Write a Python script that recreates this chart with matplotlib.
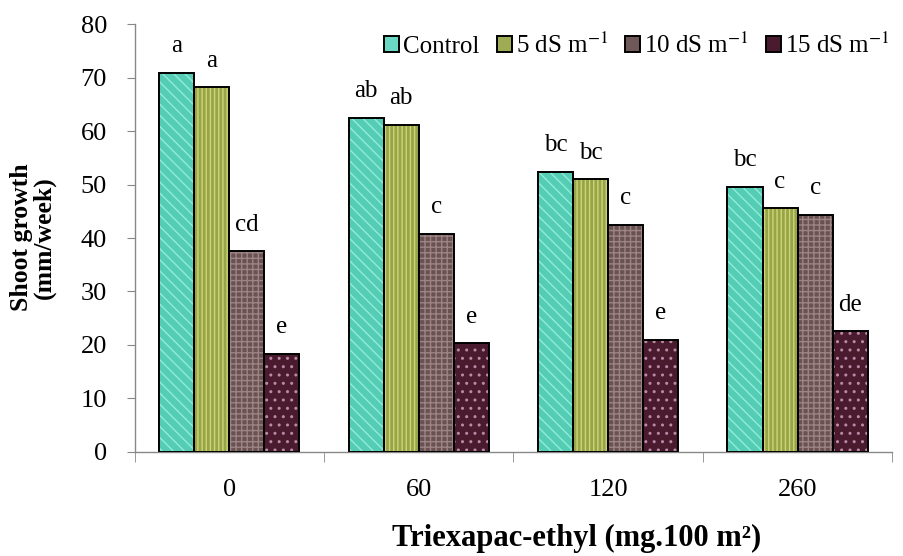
import matplotlib
matplotlib.use("Agg")
import matplotlib.pyplot as plt
from matplotlib.patches import Patch
import numpy as np

plt.rcParams['font.family'] = ['Liberation Serif', 'DejaVu Serif']
plt.rcParams['mathtext.fontset'] = 'stix'
plt.rcParams['hatch.linewidth'] = 1.0

groups = ["0", "60", "120", "260"]
series = ["Control", "5 dS m$^{-1}$", "10 dS m$^{-1}$", "15 dS m$^{-1}$"]
control = [71.0, 62.5, 52.4, 49.6]
ds5 = [68.2, 61.2, 51.0, 45.6]
ds10 = [37.5, 40.8, 42.5, 44.4]
ds15 = [18.3, 20.3, 21.0, 22.6]
letters_control = ["a", "ab", "bc", "bc"]
letters_ds5 = ["a", "ab", "bc", "c"]
letters_ds10 = ["cd", "c", "c", "c"]
letters_ds15 = ["e", "e", "e", "de"]

values = [control, ds5, ds10, ds15]
letters = [letters_control, letters_ds5, letters_ds10, letters_ds15]
faces = ["#55cdb5", "#98a448", "#6a5252", "#4a1a2e"]
hatch_cols = ["#90ecd9", "#cdd577", "#9c8484", "#b88aa4"]
hatches = ["\\\\\\", "||||", "+++", ".."]
legend_faces = ["#6ad8c2", "#9fab55", "#6e5858", "#4a1a2e"]

fig = plt.figure(figsize=(9.04, 5.56), dpi=100)
ax = fig.add_axes([0.149, 0.1876, 0.838, 0.7684])

x = np.arange(len(groups))
w = 0.185
handles = []
for i, (vals, lets) in enumerate(zip(values, letters)):
    pos = x + (i - 1.5) * w
    ax.bar(pos, vals, w, color=faces[i], hatch=hatches[i],
           edgecolor=hatch_cols[i], linewidth=0, zorder=2)
    ax.bar(pos, vals, w, facecolor="none", edgecolor="black",
           linewidth=1.4, zorder=3)
    for p, v, l in zip(pos, vals, lets):
        ax.text(p, v + 2.9, l, ha="center", va="bottom", fontsize=18)
    handles.append(Patch(facecolor=legend_faces[i], edgecolor="black", linewidth=1.4))

ax.set_xlim(-0.5, 3.5)
ax.set_ylim(0, 80)
ax.set_yticks(np.arange(0, 81, 10))
ax.set_xticks(x)
ax.set_xticklabels(groups)
ax.set_xticks(np.arange(-0.5, 4.0, 1.0), minor=True)
ax.tick_params(axis="x", which="major", length=0, pad=20, labelsize=19)
ax.tick_params(axis="x", which="minor", length=7, color="#888888", direction="out")
ax.tick_params(axis="y", length=6, color="#888888", labelsize=19, pad=14)
for s in ["top", "right"]:
    ax.spines[s].set_visible(False)
for s in ["left", "bottom"]:
    ax.spines[s].set_color("#888888")
    ax.spines[s].set_linewidth(1.0)

ax.set_ylabel("Shoot growth\n(mm/week)", fontsize=18.5, fontweight="bold",
              linespacing=0.95)
ax.yaxis.set_label_coords(-0.104, 0.502)
ax.set_xlabel("Triexapac-ethyl (mg.100 m²)", fontsize=22, fontweight="bold")
ax.xaxis.set_label_coords(0.584, -0.17)

leg = ax.legend(handles, series, loc="upper right", ncol=4, frameon=False,
                fontsize=18, handlelength=0.6, handleheight=0.6,
                handletextpad=0.15, columnspacing=0.7,
                bbox_to_anchor=(1.01, 1.005), borderaxespad=0)

fig.savefig("out.png", dpi=100)
